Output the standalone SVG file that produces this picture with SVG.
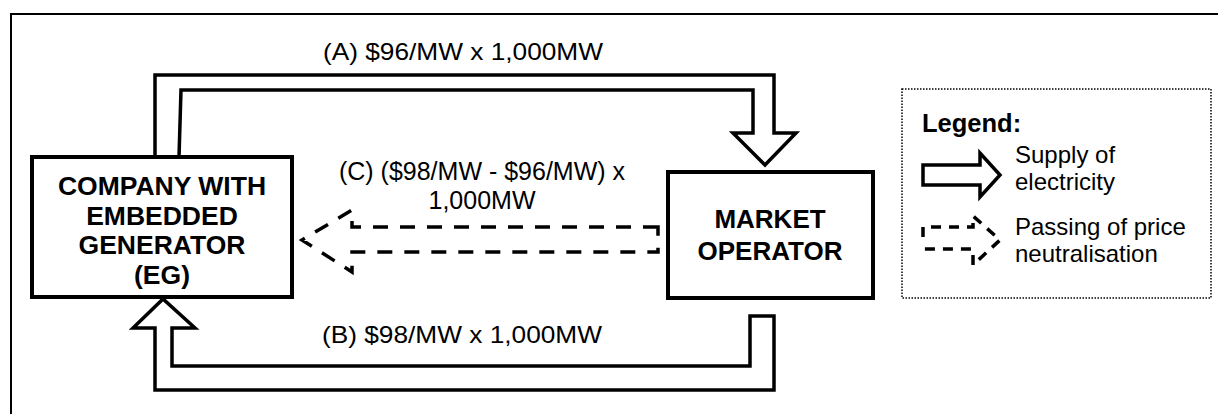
<svg xmlns="http://www.w3.org/2000/svg" width="1218" height="414" viewBox="0 0 1218 414">
  <style>
    .reg { font-family: "Liberation Sans", Arial, sans-serif; font-size: 24px; fill: #000; }
    .bold { font-family: "Liberation Sans", Arial, sans-serif; font-size: 26.5px; font-weight: bold; fill: #000; }
    .box { fill: #fff; stroke: #000; stroke-width: 4; }
    .block { fill: #fff; stroke: #000; stroke-width: 3.5; stroke-linejoin: miter; }
    .dash { fill: none; stroke: #000; stroke-width: 3.5; stroke-dasharray: 15 12; }
  </style>
  <rect x="0" y="0" width="1218" height="414" fill="#fff"/>
  <rect id="frame" x="11" y="14" width="1220" height="420" fill="none" stroke="#000" stroke-width="2"/>

  <g id="connectors">
    <g id="arrow-a">
      <path class="block" d="M155,157 V75 H774 V133 H796 L765,165 L733,133 H753 V90 H181 L179,157"/>
      <text class="reg" x="323" y="60" textLength="280" lengthAdjust="spacingAndGlyphs">(A) $96/MW x 1,000MW</text>
    </g>
    <g id="arrow-b">
      <path class="block" d="M774,316 V390 H155 V328 H133 L163,299 L195,328 H172 V366 H750 V316 Z"/>
      <text class="reg" x="322" y="343" textLength="280" lengthAdjust="spacingAndGlyphs">(B) $98/MW x 1,000MW</text>
    </g>
    <g id="arrow-c">
      <path class="dash" d="M658,227 H352 V210 L302,240 L352,272 V252 H658 Z"/>
      <text class="reg" text-anchor="middle" x="482" y="180" style="font-size:25px">(C) ($98/MW - $96/MW) x</text>
      <text class="reg" text-anchor="middle" x="482" y="209" style="font-size:25px">1,000MW</text>
    </g>
  </g>

  <g id="node-eg">
    <rect class="box" x="32" y="157" width="260" height="140"/>
    <text class="bold" text-anchor="middle" x="162" y="195">COMPANY WITH</text>
    <text class="bold" text-anchor="middle" x="162" y="224.5">EMBEDDED</text>
    <text class="bold" text-anchor="middle" x="162" y="254">GENERATOR</text>
    <text class="bold" text-anchor="middle" x="162" y="283.5">(EG)</text>
  </g>

  <g id="node-mo">
    <rect class="box" x="668" y="172" width="205" height="126"/>
    <text class="bold" text-anchor="middle" x="770" y="228" style="font-size:26px">MARKET</text>
    <text class="bold" text-anchor="middle" x="770" y="260" style="font-size:26px">OPERATOR</text>
  </g>

  <g id="legend">
    <rect x="902" y="89" width="309" height="209" fill="#fff" stroke="#000" stroke-width="1.5" stroke-dasharray="1.5 1.5"/>
    <text class="bold" x="922" y="132" style="font-size:25.5px">Legend:</text>
    <path class="block" d="M923,165 H980 V153 L1000,175 L980,197 V185 H923 Z"/>
    <text class="reg" x="1015" y="163">Supply of</text>
    <text class="reg" x="1015" y="190">electricity</text>
    <path class="dash" style="stroke-dasharray:10 8" d="M923,237 V227 H973 V216 L1000,240 L973,265 V249 H923"/>
    <text class="reg" x="1015" y="235">Passing of price</text>
    <text class="reg" x="1015" y="262">neutralisation</text>
  </g>
</svg>
